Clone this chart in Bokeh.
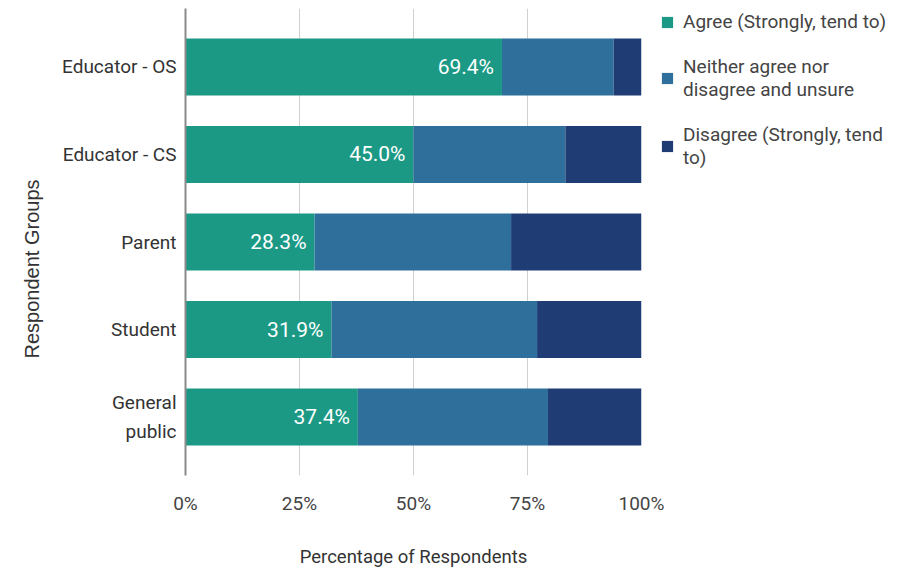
from bokeh.plotting import figure
from bokeh.models import FactorRange, Legend, LegendItem, ColumnDataSource, FixedTicker, CustomJSTickFormatter, Title
from bokeh.core.properties import value
from bokeh.embed import file_html
from bokeh.resources import INLINE

groups = ["Educator - OS", "Educator - CS", "Parent", "Student", "General\npublic"]
agree = [69.4, 50.0, 28.3, 32.0, 37.8]
neither = [24.5, 33.3, 43.1, 45.1, 41.7]
disagree = [6.1, 16.7, 28.6, 22.9, 20.5]
agree_labels = ["69.4%", "45.0%", "28.3%", "31.9%", "37.4%"]
series_names = ["Agree (Strongly, tend to)", "Neither agree nor\ndisagree and unsure", "Disagree (Strongly, tend\nto)"]
colors = ["#1b9985", "#2e6f9c", "#1f3c74"]
x_ticks = [0, 25, 50, 75, 100]
y_title = "Respondent Groups"
x_title = "Percentage of Respondents"

a_end = agree
n_end = [a + n for a, n in zip(agree, neither)]
d_end = [a + n + d for a, n, d in zip(agree, neither, disagree)]

src = ColumnDataSource(dict(
    g=groups, zero=[0] * len(groups), a=a_end, n=n_end, d=d_end, lab=agree_labels,
))

p = figure(
    y_range=FactorRange(factors=groups[::-1], range_padding=0.0674),
    x_range=(0, 100),
    frame_width=456, frame_height=467,
    min_border_left=185, min_border_right=241, min_border_top=8, min_border_bottom=80,
    output_backend="svg", toolbar_location=None,
)
p.outline_line_color = None

r1 = p.hbar(y="g", left="zero", right="a", height=0.65, source=src, color=colors[0], line_color=None)
r2 = p.hbar(y="g", left="a", right="n", height=0.65, source=src, color=colors[1], line_color=None)
r3 = p.hbar(y="g", left="n", right="d", height=0.65, source=src, color=colors[2], line_color=None)

p.text(x="a", y="g", text="lab", source=src, x_offset=-8, text_align="right", text_baseline="middle",
       text_color="white", text_font=value("Roboto"), text_font_size="21px")

# axes
p.xaxis.ticker = FixedTicker(ticks=x_ticks)
p.xaxis.formatter = CustomJSTickFormatter(code="return tick + '%';")
p.xaxis.axis_line_color = None
p.xaxis.major_tick_line_color = None
p.xaxis.minor_tick_line_color = None
p.xaxis.major_label_standoff = 10
p.xaxis.major_label_text_font = "Roboto"
p.xaxis.major_label_text_font_size = "19px"
p.xaxis.major_label_text_color = "#444444"
p.xaxis.axis_label = x_title
p.xaxis.axis_label_text_font = "Roboto"
p.xaxis.axis_label_text_font_style = "normal"
p.xaxis.axis_label_text_font_size = "18.5px"
p.xaxis.axis_label_text_color = "#333333"
p.xaxis.axis_label_standoff = 28

p.yaxis.axis_line_color = "#8a8a8a"
p.yaxis.axis_line_width = 2
p.yaxis.major_tick_line_color = None
p.yaxis.minor_tick_line_color = None
p.yaxis.major_label_standoff = 3
p.yaxis.major_label_text_font = "Roboto"
p.yaxis.major_label_text_font_size = "19px"
p.yaxis.major_label_text_line_height = 1.25
p.yaxis.major_label_text_color = "#333333"

p.add_layout(Title(
    text=y_title, align="left", offset=117, standoff=30, vertical_align="top",
    text_font="Liberation Sans", text_font_style="normal",
    text_font_size="20px", text_color="#333333",
), "left")

p.ygrid.grid_line_color = None
p.xgrid.grid_line_color = "#d0d0d0"
p.xgrid.grid_line_width = 1

legend = Legend(items=[
    LegendItem(label=series_names[0], renderers=[r1]),
    LegendItem(label=series_names[1], renderers=[r2]),
    LegendItem(label=series_names[2], renderers=[r3]),
], location=(19, 306))
legend.border_line_color = None
legend.background_fill_alpha = 0
legend.label_text_font = "Roboto"
legend.label_text_font_size = "19px"
legend.label_text_line_height = 1.4
legend.label_text_color = "#444444"
legend.glyph_width = 14
legend.glyph_height = 14
legend.spacing = 22
legend.margin = 0
legend.padding = 0
legend.label_standoff = 9
legend.label_height = 20
p.add_layout(legend, "right")

open("out.html", "w").write(file_html(p, INLINE))
